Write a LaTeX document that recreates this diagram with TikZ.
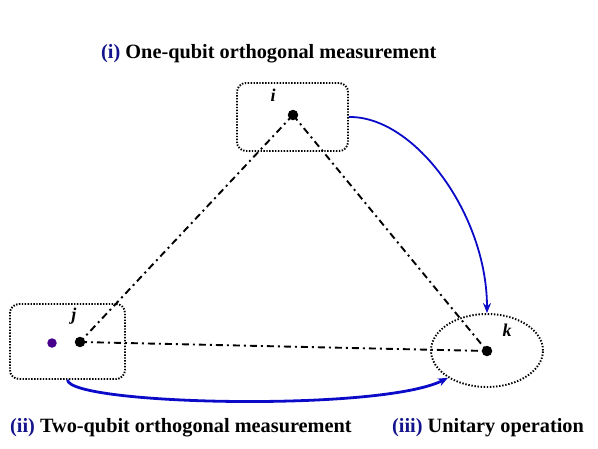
\documentclass[tikz,border=0pt]{standalone}
\usepackage{fontspec}
\setmainfont{Liberation Serif}
\usetikzlibrary{shapes.geometric,arrows.meta}
\definecolor{arrblue}{RGB}{10,10,200}
\definecolor{lblblue}{RGB}{20,20,140}
\definecolor{violetdot}{RGB}{70,0,140}
\tikzset{
  dotbox/.style={draw=black, line width=1.9pt, dash pattern=on 1.4pt off 1.5pt, rounded corners=9pt, inner sep=0pt},
  dotell/.style={ellipse, draw=black, line width=1.9pt, dash pattern=on 1.4pt off 1.7pt, inner sep=0pt},
  qdot/.style={circle, fill=black, inner sep=0pt, minimum size=10.5pt},
  dashdot/.style={line width=1.9pt, dash pattern=on 7pt off 4pt on 2pt off 4pt},
  bluearrow/.style={draw=arrblue, -{Stealth[length=10pt,width=8pt]}},
  qlabel/.style={font=\fontsize{18}{20}\selectfont\bfseries\itshape, inner sep=0pt},
  caption/.style={font=\fontsize{20.3}{24}\selectfont\bfseries, inner sep=0pt, anchor=base west},
}
\begin{document}
\begin{tikzpicture}[x=1pt,y=-1pt]
\useasboundingbox (0,0) rectangle (598,448);
% containers
\node[dotbox, minimum width=111pt, minimum height=68pt] (ibox) at (292.5,117) {};
\node[dotbox, minimum width=115pt, minimum height=75pt] (jbox) at (67.5,341.5) {};
\node[dotell, minimum width=112pt, minimum height=73pt] (kell) at (487,350.5) {};
% qubits
\node[qdot] (i) at (293,115) {};
\node[qdot] (j) at (80,342) {};
\node[qdot] (k) at (487,351) {};
\node[circle, fill=violetdot, inner sep=0pt, minimum size=9.5pt] (p) at (52,343) {};
% labels
\node[qlabel] (li) at (273,95) {i};
\node[qlabel] (lj) at (74,316) {j};
\node[qlabel] (lk) at (507,330) {k};
% dash-dot links
\draw[dashdot] (i.center) -- (j.center);
\draw[dashdot] (i.center) -- (k.center);
\draw[dashdot] (j.center) -- (k.center);
% blue arrows
\draw[bluearrow, line width=1.8pt] (ibox.east) .. controls (415,116) and (487,215) .. (kell.north);
\draw[bluearrow, line width=2.8pt] (jbox.south) .. controls (70,405) and (380,412) .. (kell.215);
% captions
\node[caption] (ti) at (101,58) {\textcolor{lblblue}{(i)} One-qubit orthogonal measurement};
\node[caption] (tii) at (10,432) {\textcolor{lblblue}{(ii)} Two-qubit orthogonal measurement};
\node[caption] (tiii) at (392,432) {\textcolor{lblblue}{(iii)} Unitary operation};
\end{tikzpicture}
\end{document}
